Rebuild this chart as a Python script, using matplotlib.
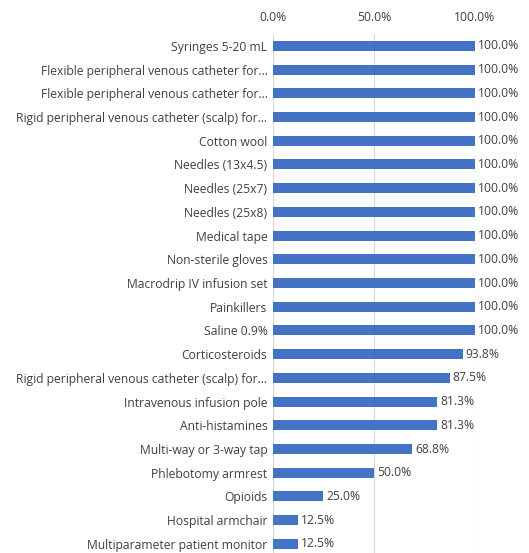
import matplotlib
matplotlib.use("Agg")
import matplotlib.pyplot as plt

items = [
    "Syringes 5-20 mL",
    "Flexible peripheral venous catheter for...",
    "Flexible peripheral venous catheter for...",
    "Rigid peripheral venous catheter (scalp) for...",
    "Cotton wool",
    "Needles (13x4.5)",
    "Needles (25x7)",
    "Needles (25x8)",
    "Medical tape",
    "Non-sterile gloves",
    "Macrodrip IV infusion set",
    "Painkillers",
    "Saline 0.9%",
    "Corticosteroids",
    "Rigid peripheral venous catheter (scalp) for...",
    "Intravenous infusion pole",
    "Anti-histamines",
    "Multi-way or 3-way tap",
    "Phlebotomy armrest",
    "Opioids",
    "Hospital armchair",
    "Multiparameter patient monitor",
]
percent = [100.0] * 13 + [93.8, 87.5, 81.3, 81.3, 68.8, 50.0, 25.0, 12.5, 12.5]
ticks = [0, 50, 100]

plt.rcParams['font.family'] = ['Open Sans', 'DejaVu Sans']
text_color = '#404040'
fs = 8.7

fig = plt.figure(figsize=(5.29, 5.53), dpi=100)
ax = fig.add_axes([0.516, -0.005, 0.382, 0.9435])

pos = list(range(len(items)))
ax.barh(pos, percent, height=0.42, color='#4472C4', zorder=3)
for p, v in zip(pos, percent):
    ax.text(v + 1.5, p, f"{v:.1f}%", va='center', ha='left', fontsize=fs, color=text_color)

ax.set_ylim(len(items) - 0.5, -0.5)
ax.set_xlim(0, 100)
ax.set_yticks(pos)
ax.set_yticklabels(items, fontsize=fs, color=text_color)
ax.set_xticks(ticks)
ax.set_xticklabels([f"{t:.1f}%" for t in ticks], fontsize=fs, color=text_color)
ax.xaxis.tick_top()
ax.tick_params(length=0, pad=4)
ax.tick_params(axis='x', pad=7)
ax.grid(axis='x', color='#D9D9D9', linewidth=0.8, zorder=0)
for s in ax.spines.values():
    s.set_visible(False)

fig.savefig("out.png", dpi=100)
